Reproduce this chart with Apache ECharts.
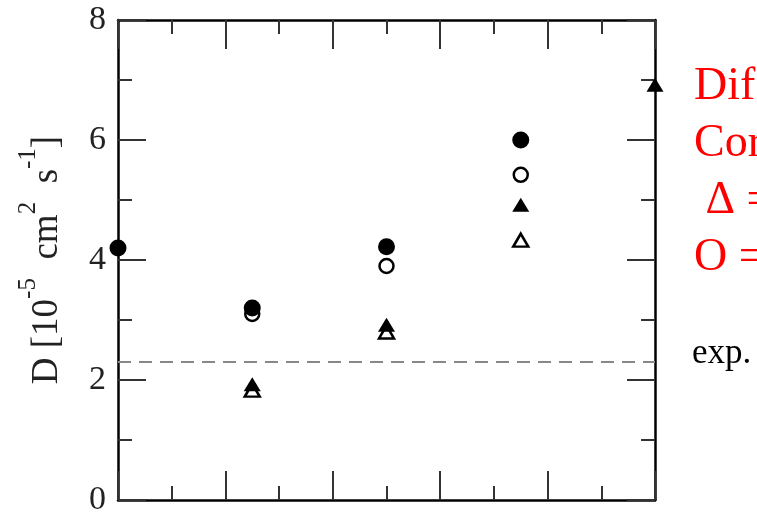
<!DOCTYPE html>
<html>
<head>
<meta charset="utf-8">
<script src="https://cdn.jsdelivr.net/npm/echarts@6/dist/echarts.min.js"></script>
<style>
  html, body { margin: 0; padding: 0; background: #fff; }
  #chart { width: 757px; height: 514px; }
</style>
</head>
<body>
<div id="chart"></div>
<script>
// values
const filledCircles = [[0, 4.2], [1.25, 3.2], [2.5, 4.22], [3.75, 6.0]];
const openCircles = [[1.25, 3.1], [2.5, 3.9], [3.75, 5.42]];
const filledTriangles = [[1.25, 1.93], [2.5, 2.92], [3.75, 4.92], [5, 6.92]];
const openTriangles = [[1.25, 1.83], [2.5, 2.8], [3.75, 4.33]];
const expValue = 2.3;
const xRange = [0, 5];
const yRange = [0, 8];

const legendLines = ["Dif", "Cor", " \u0394 =", "O ="];

const serif = "'Liberation Serif', 'DejaVu Serif', serif";

const chart = echarts.init(document.getElementById("chart"));

const tickStyle = { color: "#333", width: 2 };

function xAxisFor(position) {
  return {
    type: "value",
    position: position,
    min: xRange[0],
    max: xRange[1],
    interval: 1,
    axisLine: { show: true, onZero: false, lineStyle: { color: "#000", width: 2.5 } },
    axisTick: { show: true, inside: true, length: 29, lineStyle: tickStyle },
    minorTick: { show: true, splitNumber: 2, length: 14, lineStyle: tickStyle },
    axisLabel: { show: false },
    splitLine: { show: false },
  };
}

function yAxisFor(position, withLabels) {
  return {
    type: "value",
    position: position,
    min: yRange[0],
    max: yRange[1],
    interval: 2,
    axisLine: { show: true, onZero: false, lineStyle: { color: "#000", width: 2.5 } },
    axisTick: { show: true, inside: true, length: 28, lineStyle: tickStyle },
    minorTick: { show: true, splitNumber: 2, length: 14, lineStyle: tickStyle },
    axisLabel: {
      show: withLabels,
      margin: 12,
      fontFamily: serif,
      fontSize: 34,
      color: "#222",
      showMinLabel: true,
      showMaxLabel: true,
    },
    splitLine: { show: false },
  };
}

const left = yAxisFor("left", true);
left.name = "{m|D [10}{s|-5}{m|  cm}{s|2}{m|  s}{s|-1}{m|]}";
left.nameLocation = "middle";
left.nameRotate = 90;
left.nameGap = 52;
left.nameTextStyle = {
  fontFamily: serif,
  color: "#222",
  rich: {
    m: { fontFamily: serif, fontSize: 37, color: "#222", lineHeight: 50, verticalAlign: "bottom" },
    s: { fontFamily: serif, fontSize: 25, color: "#222", lineHeight: 50, verticalAlign: "top" },
  },
};

const option = {
  animation: false,
  backgroundColor: "#fff",
  grid: { left: 118, right: 102, top: 20, bottom: 14, containLabel: false, outerBoundsMode: "none" },
  xAxis: [xAxisFor("bottom"), xAxisFor("top")],
  yAxis: [left, yAxisFor("right", false)],
  series: [
    {
      type: "line",
      data: [[xRange[0], expValue], [xRange[1], expValue]],
      symbol: "none",
      silent: true,
      lineStyle: { color: "#888", width: 2, type: [13, 8] },
      z: 1,
    },
    {
      type: "scatter",
      data: openCircles,
      symbol: "circle",
      symbolSize: 14,
      clip: false,
      itemStyle: { color: "#fff", borderColor: "#000", borderWidth: 2.5, opacity: 1 },
      z: 2,
    },
    {
      type: "scatter",
      data: filledCircles,
      symbol: "circle",
      symbolSize: 17,
      clip: false,
      itemStyle: { color: "#000", opacity: 1 },
      z: 3,
    },
    {
      type: "scatter",
      data: openTriangles,
      symbol: "triangle",
      symbolSize: [15, 13],
      clip: false,
      itemStyle: { color: "#fff", borderColor: "#000", borderWidth: 2.5, opacity: 1 },
      z: 2,
    },
    {
      type: "scatter",
      data: filledTriangles,
      symbol: "triangle",
      symbolSize: [17, 14],
      clip: false,
      itemStyle: { color: "#000", opacity: 1 },
      z: 3,
    },
  ],
  graphic: legendLines.map((t, i) => ({
    type: "text",
    left: 694,
    top: 64 + i * 57,
    style: { text: t, fontFamily: serif, fontSize: 46, fill: "#ff0000" },
  })).concat([
    {
      type: "text",
      left: 692,
      top: 336,
      style: { text: "exp.", fontFamily: serif, fontSize: 35, fill: "#000" },
    },
  ]),
};

chart.setOption(option);
</script>
</body>
</html>
